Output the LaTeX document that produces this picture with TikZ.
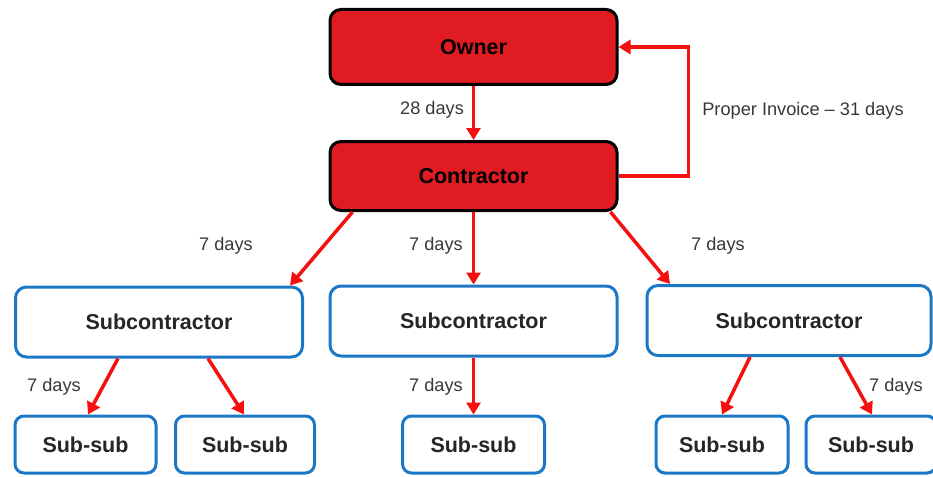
\documentclass[tikz,border=0pt]{standalone}
\usepackage{fontspec}
\setmainfont{Liberation Sans}
\usetikzlibrary{arrows.meta}
\definecolor{boxred}{HTML}{E01B22}
\definecolor{arrred}{HTML}{F50F0F}
\definecolor{boxblue}{HTML}{1C78C6}
\definecolor{lblgray}{HTML}{383838}
\tikzset{
  redbox/.style={draw=black, fill=boxred, line width=3pt, rounded corners=11pt,
    minimum width=287pt, inner sep=0pt, font=\fontsize{21.5}{24}\selectfont\bfseries, text=black},
  subbox/.style={draw=boxblue, fill=white, line width=3pt, rounded corners=11pt,
    minimum height=70pt, inner sep=0pt, font=\fontsize{21.5}{24}\selectfont\bfseries, text=black!85},
  ssbox/.style={draw=boxblue, fill=white, line width=3pt, rounded corners=9pt,
    minimum height=57pt, inner sep=0pt, font=\fontsize{21.5}{24}\selectfont\bfseries, text=black!85},
  lbl/.style={font=\fontsize{18.2}{20}\selectfont, text=lblgray, inner sep=0pt},
  arr/.style={draw=arrred, line width=3.5pt, -{Triangle[length=12pt,width=14pt]}, line join=miter},
}
\begin{document}
\begin{tikzpicture}[x=1pt,y=-1pt]
\useasboundingbox (0,0) rectangle (933,476);
% main boxes
\node[redbox, minimum height=75pt] (owner) at (473.5,47) {Owner};
\node[redbox, minimum height=69pt] (contractor) at (473.5,176) {Contractor};
% subcontractors
\node[subbox, minimum width=287pt] (subL) at (159,322) {Subcontractor};
\node[subbox, minimum width=287pt] (subM) at (473.5,321) {Subcontractor};
\node[subbox, minimum width=284pt] (subR) at (789,320.5) {Subcontractor};
% sub-subs
\node[ssbox, minimum width=141pt] (ss1) at (85.5,444.5) {Sub-sub};
\node[ssbox, minimum width=139pt] (ss2) at (245,444.5) {Sub-sub};
\node[ssbox, minimum width=142pt] (ss3) at (473.5,444.5) {Sub-sub};
\node[ssbox, minimum width=132pt] (ss4) at (722,444.5) {Sub-sub};
\node[ssbox, minimum width=130pt] (ss5) at (871,444.5) {Sub-sub};
% arrows
\draw[arr] (owner.south) -- (contractor.north);
\draw[arr] (contractor.east) -- ([xshift=70pt]contractor.east) |- (owner.east);
\draw[arr] ([xshift=-121pt]contractor.south) -- ([xshift=131pt]subL.north);
\draw[arr] (contractor.south) -- (subM.north);
\draw[arr] ([xshift=137pt]contractor.south) -- ([xshift=-119pt]subR.north);
\draw[arr] ([xshift=-41pt]subL.south) -- ([xshift=2.5pt]ss1.north);
\draw[arr] ([xshift=49pt]subL.south) -- ([xshift=-1pt]ss2.north);
\draw[arr] (subM.south) -- (ss3.north);
\draw[arr] ([xshift=-39pt]subR.south) -- ([xshift=0pt]ss4.north);
\draw[arr] ([xshift=51pt]subR.south) -- ([xshift=1pt]ss5.north);
% labels
\node[lbl] (l28) at (432,110) {28 days};
\node[lbl] (linv) at (803,111) {Proper Invoice -- 31 days};
\node[lbl] (l7a) at (226,246) {7 days};
\node[lbl] (l7b) at (436,246) {7 days};
\node[lbl] (l7c) at (718,246) {7 days};
\node[lbl] (l7d) at (54,387) {7 days};
\node[lbl] (l7e) at (436,387) {7 days};
\node[lbl] (l7f) at (896,387) {7 days};
\end{tikzpicture}
\end{document}
